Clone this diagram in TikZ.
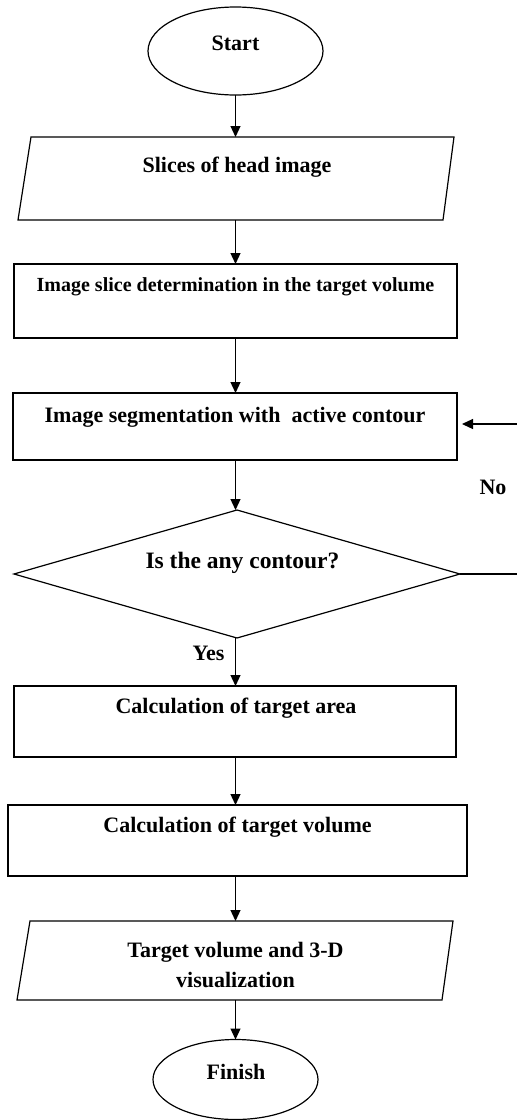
\documentclass[tikz,border=0pt]{standalone}
\usepackage{fontspec}
\setmainfont{Liberation Serif}
\usetikzlibrary{shapes.geometric,arrows.meta}
\begin{document}
\begin{tikzpicture}[x=1pt,y=-1pt,
  every path/.style={line width=1.2pt},
  shp/.style={draw=black,inner sep=0pt,outer sep=0pt},
  boxn/.style={shp,rectangle},
  ghost/.style={rectangle,inner sep=0pt,outer sep=0pt},
  ell/.style={shp,ellipse},
  dia/.style={shp,diamond},
  lbl/.style={font=\bfseries\fontsize{22}{30}\selectfont,inner sep=0pt,align=center},
  arr/.style={-{Triangle[width=10pt,length=11pt]}}
]
\fill[white] (0,0) rectangle (517,1120);
\useasboundingbox (0,0) rectangle (517,1120);

% shapes
\node[ell,minimum width=175pt,minimum height=88pt] (start) at (235.5,51) {};
\node[ghost,minimum width=436pt,minimum height=83pt] (p1) at (236,178.5) {};
\draw (p1.south west) -- ([xshift=13pt]p1.north west) -- (p1.north east) -- ([xshift=-11pt]p1.south east) -- cycle;
\node[boxn,minimum width=443pt,minimum height=74pt] (b2) at (235.5,301) {};
\node[boxn,minimum width=444pt,minimum height=67pt] (b3) at (235,426.5) {};
\node[dia,minimum width=446pt,minimum height=128pt] (d) at (237,574) {};
\node[boxn,minimum width=442pt,minimum height=71pt] (b4) at (235,721.5) {};
\node[boxn,minimum width=459pt,minimum height=71pt] (b5) at (237.5,840.5) {};
\node[ghost,minimum width=436pt,minimum height=79pt] (p2) at (235,960.5) {};
\draw (p2.south west) -- ([xshift=13pt]p2.north west) -- (p2.north east) -- ([xshift=-11pt]p2.south east) -- cycle;
\node[ell,minimum width=165pt,minimum height=80pt] (finish) at (235.5,1079.5) {};

% texts
\node[lbl] (tstart) at (235.5,43) {Start};
\node[lbl] (tp1) at (237,167) {Slices of head image};
\node[lbl,font=\bfseries\fontsize{20}{30}\selectfont] (tb2) at (235.5,287) {Image slice determination in the target volume};
\node[lbl] (tb3) at (235,417) {Image segmentation with\ \ active contour};
\node[lbl,font=\bfseries\fontsize{23.5}{30}\selectfont] (td) at (242.5,563) {Is the any contour?};
\node[lbl] (tb4) at (236,708) {Calculation of target area};
\node[lbl] (tb5) at (237.5,827) {Calculation of target volume};
\node[lbl] (tp2) at (235.5,965) {Target volume and 3-D\\visualization};
\node[lbl] (tfinish) at (236,1072) {Finish};
\node[lbl] (tno) at (493,487) {No};
\node[lbl] (tyes) at (208.5,653) {Yes};

% connectors
\coordinate (fbA) at (517,574);
\coordinate (fbB) at (517,424);
\draw[arr] (start.south) -- (start.south |- p1.north);
\draw[arr] (start.south |- p1.south) -- (start.south |- b2.north);
\draw[arr] (start.south |- b2.south) -- (start.south |- b3.north);
\draw[arr] (start.south |- b3.south) -- (start.south |- d.north);
\draw[arr] (start.south |- d.south) -- (start.south |- b4.north);
\draw[arr] (start.south |- b4.south) -- (start.south |- b5.north);
\draw[arr] (start.south |- b5.south) -- (start.south |- p2.north);
\draw[arr] (start.south |- p2.south) -- (finish.north);
\draw (d.east) -- (fbA);
\draw[arr] (fbB) -- ([xshift=5pt]b3.east |- fbB);
\end{tikzpicture}
\end{document}
